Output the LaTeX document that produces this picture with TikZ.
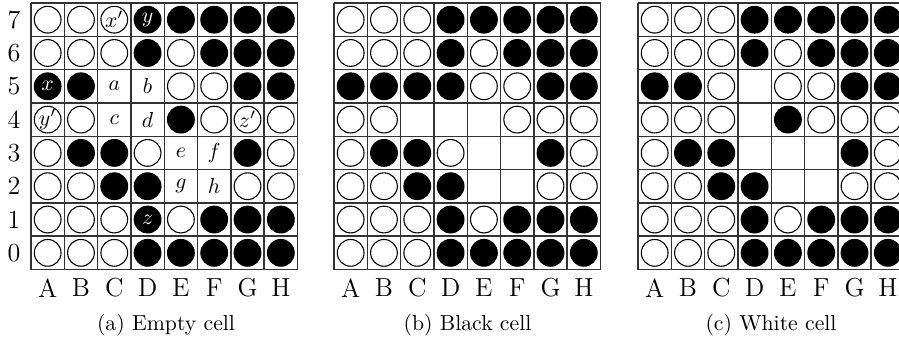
\documentclass[tikz,border=0pt]{standalone}
\begin{document}
\tikzset{
  cellline/.style={draw=black!80, line width=0.65pt},
  stW/.style={circle, draw=black, line width=0.5pt, fill=white, minimum size=12.3pt, inner sep=0pt},
  stB/.style={circle, draw=black, line width=0.5pt, fill=black, minimum size=12.3pt, inner sep=0pt},
  stE/.style={inner sep=0pt, minimum size=12.3pt},
  lbl/.style={inner sep=0pt, font=\large},
  clbl/.style={inner sep=0pt},
  wlbl/.style={inner sep=0pt, text=white},
  caption/.style={inner sep=0pt},
}
\newcommand\boardrow[4]{%
  \foreach \t [count=\c from 0] in {#4} {%
    \node[st\t] (#2-#3-\c) at ({#1+16.66+33.31*\c},{3+16.66+33.31*(7-#3)}) {};
  }%
}
\newcommand\boardgrid[1]{%
  \foreach \i in {0,...,8} {%
    \draw[cellline] ({#1+33.31*\i},3) -- ({#1+33.31*\i},269.5);
    \draw[cellline] (#1,{3+33.31*\i}) -- ({#1+266.5},{3+33.31*\i});
  }%
}
\newcommand\boardcols[2]{%
  \foreach \L [count=\c from 0] in {A,B,C,D,E,F,G,H} {%
    \node[lbl] (#2-col\c) at ({#1+16.66+33.31*\c},288) {\L};
  }%
}
\begin{tikzpicture}[x=0.46pt,y=-0.46pt]
\useasboundingbox (0,0) rectangle (899,341);
% ---------- board (a)
\boardgrid{31}
\boardrow{31}{a}{7}{W,W,W,B,B,B,B,B}
\boardrow{31}{a}{6}{W,W,W,B,W,B,B,B}
\boardrow{31}{a}{5}{B,B,E,E,W,W,B,B}
\boardrow{31}{a}{4}{W,W,E,E,B,W,W,W}
\boardrow{31}{a}{3}{W,B,B,W,E,E,B,W}
\boardrow{31}{a}{2}{W,W,B,B,E,E,W,W}
\boardrow{31}{a}{1}{W,W,W,B,W,B,B,B}
\boardrow{31}{a}{0}{W,W,W,B,B,B,B,B}
\boardcols{31}{a}
\foreach \r in {0,...,7} {\node[lbl] (a-row\r) at (14,{3+16.66+33.31*(7-\r)}) {\r};}
\node[clbl] at (a-7-2) {$x'$};
\node[wlbl] at (a-7-3) {$y$};
\node[wlbl] at (a-5-0) {$x$};
\node[clbl] at (a-5-2) {$a$};
\node[clbl] at (a-5-3) {$b$};
\node[clbl] at (a-4-0) {$y'$};
\node[clbl] at (a-4-2) {$c$};
\node[clbl] at (a-4-3) {$d$};
\node[clbl] at (a-4-6) {$z'$};
\node[clbl] at (a-3-4) {$e$};
\node[clbl] at (a-3-5) {$f$};
\node[clbl] at (a-2-4) {$g$};
\node[clbl] at (a-2-5) {$h$};
\node[wlbl] at (a-1-3) {$z$};
\node[caption] (cap-a) at (166,325) {(a) Empty cell};
% ---------- board (b)
\boardgrid{334}
\boardrow{334}{b}{7}{W,W,W,B,B,B,B,B}
\boardrow{334}{b}{6}{W,W,W,B,W,B,B,B}
\boardrow{334}{b}{5}{B,B,B,B,W,W,B,B}
\boardrow{334}{b}{4}{W,W,E,E,E,W,W,W}
\boardrow{334}{b}{3}{W,B,B,W,E,E,B,W}
\boardrow{334}{b}{2}{W,W,B,B,E,E,W,W}
\boardrow{334}{b}{1}{W,W,W,B,W,B,B,B}
\boardrow{334}{b}{0}{W,W,W,B,B,B,B,B}
\boardcols{334}{b}
\node[caption] (cap-b) at (467.5,325) {(b) Black cell};
% ---------- board (c)
\boardgrid{638}
\boardrow{638}{c}{7}{W,W,W,B,B,B,B,B}
\boardrow{638}{c}{6}{W,W,W,B,W,B,B,B}
\boardrow{638}{c}{5}{B,B,W,E,W,W,B,B}
\boardrow{638}{c}{4}{W,W,W,E,B,W,W,W}
\boardrow{638}{c}{3}{W,B,B,E,E,E,B,W}
\boardrow{638}{c}{2}{W,W,B,B,E,E,W,W}
\boardrow{638}{c}{1}{W,W,W,B,W,B,B,B}
\boardrow{638}{c}{0}{W,W,W,B,B,B,B,B}
\boardcols{638}{c}
\node[caption] (cap-c) at (771,325) {(c) White cell};
\end{tikzpicture}
\end{document}
